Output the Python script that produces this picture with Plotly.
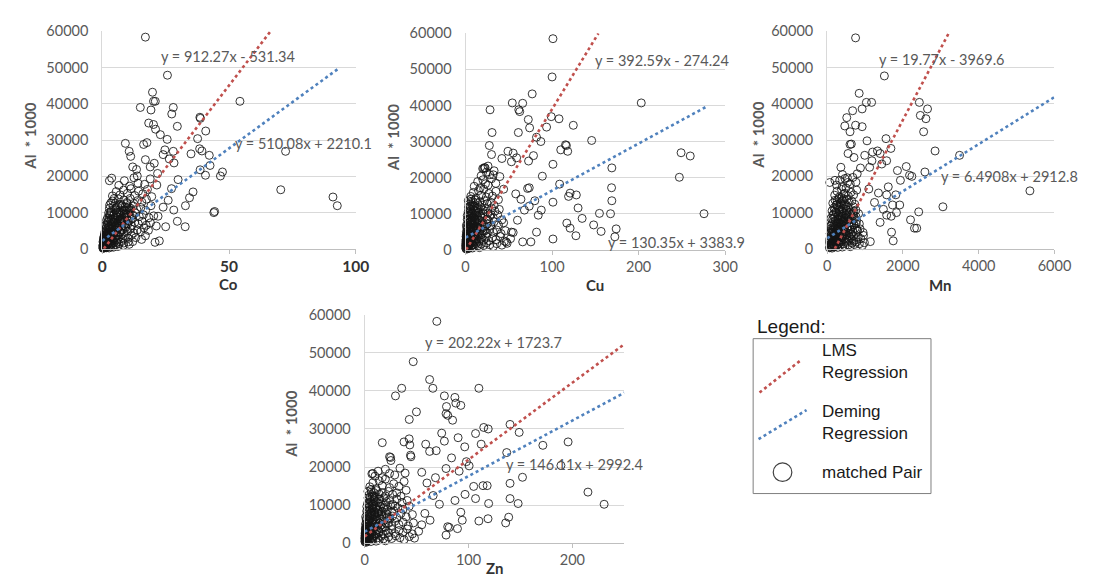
import plotly.graph_objects as go

W, H = 1094, 587

# ---------------- DATA ----------------
AL_RANGE = [0, 60000]
Y_TICKS = [0, 10000, 20000, 30000, 40000, 50000, 60000]

CO_TICKS = [0, 50, 100]
CU_TICKS = [0, 100, 200, 300]
MN_TICKS = [0, 2000, 4000, 6000]
ZN_TICKS = [0, 100, 200]

# Co vs Al*1000
co_pts = [
    (17, 58400), (25.7, 47900), (19.8, 43200), (20.2, 40700), (20.9, 40700), (15, 39000), (19.2, 38300),
    (28, 39000), (27.4, 37200), (54.3, 40700), (38.5, 36300), (38.7, 36000), (18.3, 34700), (20.2, 34300),
    (21, 33000), (22.9, 31500), (25.6, 30200), (29.6, 33800), (40.8, 32500), (9.1, 29100), (16.3, 28800),
    (17.6, 29300), (37.6, 30400), (38.4, 27600), (39.3, 27000), (42.2, 25800), (35, 26200), (24.7, 27300),
    (28, 26900), (24, 26000), (72.3, 26900), (10.6, 26900), (11.2, 25500), (17, 24600), (20.5, 23600),
    (26.4, 24800), (28.3, 23700), (12, 22600), (13.5, 21900), (13.8, 20100), (18.9, 22600), (21.8, 20800),
    (38.6, 21800), (40.7, 20300), (42.5, 23000), (47.4, 21200), (46.6, 20100), (2.8, 18800), (3.7, 19500),
    (29.9, 19100), (35.8, 15700), (34.4, 14100), (32.8, 11900), (29.6, 7600), (32.7, 6100), (28.2, 10700),
    (25, 6100), (20.8, 1800), (22.5, 2200), (44, 10000), (44.3, 10300), (70.4, 16300), (91, 14300),
    (92.7, 11900), (27.3, 16600), (26, 13400), (24, 11500), (22, 9000), (21.3, 6300),
    (0.2, 300), (0.4, 700), (0.6, 200), (0.8, 1100), (1.0, 500), (1.2, 1500), (1.4, 900), (1.6, 300),
    (1.8, 1800), (2.0, 1200), (2.3, 600), (2.6, 1600), (3.0, 900), (3.3, 1900), (3.7, 1300), (4.1, 700),
    (4.6, 1700), (5.2, 1100), (5.8, 1800), (6.5, 1400), (7.3, 1900), (8.5, 1600), (10.2, 1900), (12, 2000),
    (0.5, 2200), (0.9, 2800), (1.3, 3500), (1.7, 2400), (2.1, 3100), (2.5, 3800), (2.9, 2600), (3.3, 3300),
    (3.8, 2200), (4.2, 3700), (4.7, 2900), (5.3, 3500), (5.9, 2500), (6.6, 3200), (7.4, 3900), (8.2, 2700),
    (9.1, 3400), (10.3, 2900), (11.5, 3700), (13.2, 3100), (15.5, 2600), (17, 3600),
    (1.0, 4300), (1.5, 5200), (2.0, 4700), (2.4, 5800), (2.8, 4200), (3.2, 5300), (3.6, 4600), (4.0, 5600),
    (4.5, 4100), (5.0, 5100), (5.6, 4500), (6.2, 5700), (6.9, 4800), (7.6, 5400), (8.4, 4300), (9.3, 5900),
    (10.1, 4900), (11.2, 5500), (12.4, 4400), (13.8, 5200), (15.1, 4700), (16.4, 5800), (18.2, 5100),
    (1.3, 6500), (2.0, 7300), (2.7, 6200), (3.3, 7800), (3.9, 6700), (4.5, 7400), (5.1, 6100), (5.8, 7100),
    (6.4, 6600), (7.0, 7900), (7.8, 6300), (8.6, 7500), (9.5, 6800), (10.5, 7700), (11.6, 6400), (12.8, 7300),
    (14.2, 6900), (15.7, 7600), (17.3, 6500), (19, 7200),
    (2.1, 8600), (2.9, 9500), (3.6, 8200), (4.3, 9100), (5.0, 8500), (5.7, 9800), (6.3, 8800), (7.1, 9300),
    (7.9, 8100), (8.8, 9700), (9.6, 8700), (10.7, 9200), (11.9, 8400), (13.1, 9900), (14.6, 8900),
    (16.2, 9400), (18.4, 8600), (20.3, 9100),
    (2.8, 11200), (3.5, 10400), (4.4, 11700), (5.3, 10800), (6.1, 11500), (7.0, 10200), (7.9, 11900),
    (8.7, 10700), (9.8, 11300), (10.9, 10300), (12.2, 11800), (13.6, 10900), (15.2, 11400), (17.1, 10600),
    (19.2, 11900),
    (2.9, 12100), (4.1, 13200), (5.2, 12600), (6.3, 13800), (7.4, 12300), (8.5, 13500), (9.7, 12800),
    (11.0, 13900), (12.4, 12500), (13.9, 13300), (15.6, 12900), (17.4, 13700),
    (4.0, 14600), (5.5, 15800), (7.0, 14900), (8.4, 16200), (9.9, 15300), (11.3, 16600), (12.8, 14700),
    (14.3, 15900), (16.0, 15200), (17.8, 16400), (19.5, 14400),
    (6.5, 17500), (8.7, 18800), (10.8, 17300), (12.5, 19600), (14.1, 18100), (16.7, 17800), (18.9, 19300),
    (21.5, 17600),
    (0.3, 1000), (0.7, 1500), (1.1, 2000), (0.5, 600), (0.9, 1900), (1.5, 2500), (1.9, 3000), (2.2, 2000),
    (0.4, 1300), (1.0, 2700), (1.6, 3600), (2.3, 4300), (0.7, 3300), (1.2, 4000), (0.3, 2000), (0.6, 400),
    (1.3, 1200), (2.8, 3300), (3.5, 2800), (4.3, 4700),
    (0.5, 3000), (0.8, 3800), (1.1, 4800), (1.4, 5600), (1.7, 6200), (2.2, 6800), (2.4, 7600), (2.7, 8400),
    (3.1, 9200), (3.3, 10100), (1.1, 1100), (1.6, 1400), (2.1, 2300), (2.4, 2700), (3.1, 2900), (3.4, 3700),
    (4.1, 4100), (4.4, 4400), (5.1, 5300), (5.4, 5600), (6.1, 6200), (6.7, 6300), (7.1, 7200), (7.3, 7700),
    (8.1, 7900), (8.7, 8700), (9.1, 9200), (9.4, 9700), (10.2, 9900), (10.6, 10700), (11.1, 11200),
    (3.2, 1500), (4.3, 2300), (5.0, 3100), (6.0, 3700), (7.1, 4600), (8.0, 5300), (9.0, 6100), (10.1, 6900),
    (11.3, 8100), (12.1, 9300), (0.8, 2500), (1.9, 4100), (2.9, 5500), (3.8, 6300), (4.8, 7300),
    (5.9, 8700), (6.8, 9700), (7.7, 10600), (8.9, 11500), (9.8, 12500), (1.7, 7900), (2.5, 9900),
    (3.4, 12700), (4.7, 13900), (5.6, 10100), (6.7, 12100), (1.2, 350), (2.7, 250), (4.4, 450), (6.2, 650),
    (8.3, 950), (10.6, 1250), (0.2, 850), (0.4, 1700), (0.6, 2700), (0.9, 3600), (1.8, 2100), (2.2, 3000),
    (3.7, 4000), (4.9, 5200), (5.3, 6400), (6.4, 7100), (7.5, 8300), (8.4, 9400), (9.3, 10400),
    (10.4, 11500), (0.3, 150), (0.7, 900), (1.4, 2900), (2.0, 3700), (2.6, 4600), (3.0, 6100), (3.5, 7000),
    (4.2, 8100), (4.6, 9400), (5.4, 11300),
]

# Cu vs Al*1000
cu_pts = [
    (101, 58500), (100, 47900), (77, 43200), (54, 40700), (66, 40600), (61.5, 38800), (62.6, 38300),
    (203, 40700), (28.3, 38800), (72.5, 36100), (99, 36900), (108, 36300), (124.5, 34500), (93.6, 34000),
    (74, 33800), (30.6, 32500), (61, 32500), (145.7, 30300), (82, 31200), (87, 30000), (115.5, 29100),
    (116.5, 28900), (110, 27700), (118, 27300), (27.5, 28900), (30, 26400), (249, 26900), (259.6, 26000),
    (49, 27300), (55, 26800), (59, 25500), (72.8, 24600), (78.5, 26100), (42, 25300), (53, 24400),
    (101, 23700), (169, 22700), (22.6, 22700), (19.8, 22500), (32, 20800), (39.6, 20300), (88.7, 20400),
    (247, 20100), (108.7, 18200), (168.7, 17200), (73.6, 17200), (71.7, 17000), (120.8, 15700), (128, 15200),
    (119, 14800), (169, 13600), (101, 13200), (130, 11600), (87.5, 11000), (154.7, 10100), (167.5, 10000),
    (275.5, 10000), (134.7, 8700), (117, 7400), (148, 6900), (174, 5800), (156.6, 5100), (172.5, 3600),
    (127.5, 3900), (101, 3000), (120.8, 6000), (82, 4900), (75.5, 2200), (66, 2200), (53, 4900), (47, 2200),
    (73.6, 12100), (68, 11000), (58, 15500), (64, 14000), (80, 13600), (84, 9600), (60, 8200), (44, 16800),
    (0.5, 300), (1, 800), (1.5, 200), (2, 1300), (2.5, 600), (3, 1700), (3.5, 1000), (4, 400), (5, 1500),
    (6, 900), (7, 1900), (8, 500), (9, 1400), (10, 800), (12, 1800), (14, 1100), (16, 600), (18, 1600),
    (21, 1200), (24, 1900), (28, 1400), (32, 900), (36, 1700), (42, 1300), (48, 1800),
    (0.8, 2300), (1.5, 3100), (2.3, 2600), (3, 3800), (4, 2200), (5, 3300), (6, 2800), (7.5, 3700), (9, 2400),
    (10.5, 3500), (12, 2900), (14, 3800), (16, 2300), (18, 3200), (21, 2700), (24, 3600), (27, 2500),
    (31, 3300), (35, 2800), (40, 3700), (45, 2400), (52, 3100),
    (1, 4200), (2, 5100), (3, 4600), (4, 5700), (5, 4300), (6.5, 5400), (8, 4800), (9.5, 5900), (11, 4400),
    (13, 5300), (15, 4700), (17, 5800), (19, 4200), (22, 5200), (25, 4600), (28, 5700), (32, 4900),
    (36, 5500), (41, 4500), (46, 5300), (55, 4800),
    (1.5, 6300), (2.5, 7200), (3.5, 6700), (5, 7700), (6.5, 6200), (8, 7400), (9.5, 6900), (11, 7900),
    (13, 6400), (15, 7300), (17, 6800), (19.5, 7700), (22, 6300), (25, 7100), (29, 6600), (33, 7800),
    (38, 6900), (44, 7500),
    (2, 8400), (3.5, 9300), (5, 8700), (6.5, 9800), (8, 8200), (9.5, 9100), (11, 8600), (13, 9600),
    (15, 8300), (17, 9400), (19, 8800), (22, 9900), (25, 8500), (28, 9300), (32, 8900), (37, 9700), (42, 8300),
    (3, 10500), (5, 11300), (7, 10200), (9, 11700), (11, 10800), (13, 11500), (15, 10300), (17.5, 11900),
    (20, 10900), (23, 11400), (26, 10200), (30, 11600), (34, 10700), (39, 11200),
    (4, 12600), (6.5, 13400), (9, 12200), (11.5, 13800), (14, 12900), (16.5, 13300), (19, 12400),
    (22, 13600), (25, 12800), (29, 13200), (33, 12300), (38, 13900),
    (6, 14800), (9, 15900), (12, 14300), (15, 16400), (18, 15100), (21, 16800), (24, 14600), (27, 15600),
    (31, 14900), (35, 16200),
    (10, 17600), (14, 18900), (17, 17200), (20, 19400), (23, 18300), (26, 17900), (30, 19700), (35, 18400),
    (18, 20500), (21, 22500), (22, 22800), (24, 21500), (26, 23200), (28, 20800), (33, 21900),
    (0.3, 500), (0.6, 1200), (0.9, 1800), (1.2, 2500), (1.6, 900), (2.1, 1900), (2.7, 3000), (3.3, 2400),
    (1.1, 3600), (1.8, 4300), (2.4, 3400), (0.4, 2000), (0.7, 2900), (1.4, 1400), (3.8, 3100), (4.6, 1900),
    (5.5, 2600), (6.2, 4000), (7.2, 3000), (0.9, 5000),
    (1.2, 3000), (2.2, 4000), (3.1, 5100), (4.2, 6100), (5.3, 7000), (6.1, 8100), (7.3, 9000), (8.2, 10100),
    (9.4, 11000), (10.3, 12100), (2.6, 1200), (4.4, 2100), (6.2, 3200), (8.3, 4000), (10.1, 5100),
    (12.2, 6100), (14.1, 7000), (16.3, 8100), (18.2, 9200), (20.1, 10100), (0.6, 3700), (1.7, 5900),
    (2.8, 8300), (3.9, 10200), (5.2, 12100), (6.4, 14100), (1.0, 6800), (2.0, 9500), (3.4, 11800),
    (7.8, 1300), (11.2, 2300), (13.8, 3000), (17.2, 4100), (20.3, 5200), (23.2, 6700), (26.4, 8100),
    (29.4, 9800), (0.2, 1400), (0.5, 2600), (1.3, 700), (1.9, 3600), (2.9, 4300), (3.6, 5500), (4.4, 7600),
    (5.6, 6400), (6.8, 7300), (7.7, 8600), (8.6, 6300), (9.8, 7600), (10.8, 9400), (12.3, 10600),
    (13.6, 8200), (14.7, 11600), (4.8, 9600), (6.0, 10900), (7.4, 12400), (8.8, 13300), (3.2, 13600),
    (0.4, 900), (0.8, 1600), (1.4, 2100), (2.6, 2300), (3.6, 1400), (4.8, 3000), (5.8, 3900), (7.0, 5300),
    (8.6, 5600), (9.8, 3100), (11.5, 3900), (12.6, 5600), (14.3, 6200), (16.1, 5100), (18.6, 6600),
]

# Mn vs Al*1000
mn_pts = [
    (751, 58200), (1511, 47700), (846, 42900), (1036, 40400), (1174, 40400), (2434, 40400), (2650, 38600),
    (2460, 36800), (2607, 35900), (673, 38100), (924, 38600), (518, 36200), (466, 33900), (604, 32300),
    (751, 34100), (924, 33700), (2547, 32300), (639, 28900), (604, 28800), (1053, 29800), (1554, 30400),
    (1683, 27700), (2849, 27000), (3496, 25800), (553, 26300), (708, 25200), (993, 25800), (1200, 26700),
    (1329, 27000), (1398, 26300), (1183, 24300), (1442, 23400), (1571, 24300), (1122, 22500), (363, 22500),
    (406, 20500), (535, 19600), (794, 20700), (880, 22300), (2089, 22700), (1856, 21600), (2175, 20300),
    (2236, 20000), (2581, 21200), (1934, 18900), (69, 18300), (207, 18900), (5352, 16000), (3056, 11600),
    (2417, 10200), (2201, 8000), (2305, 5700), (2365, 5700), (1744, 2200), (1727, 12100), (1916, 12100),
    (1700, 4600), (1398, 7300), (1690, 9000), (1140, 2000), (984, 1700), (1485, 10900), (1571, 9300),
    (1355, 15400), (1571, 14900), (1614, 17100), (1813, 14900), (1830, 10000), (1250, 12800), (1100, 16500),
    (60, 300), (100, 800), (130, 200), (160, 1300), (190, 600), (220, 1700), (250, 1000), (280, 400),
    (310, 1500), (340, 900), (370, 1900), (400, 500), (430, 1400), (470, 800), (510, 1800), (560, 1100),
    (610, 600), (660, 1600), (720, 1200), (780, 1900), (850, 1400), (930, 900),
    (70, 2300), (110, 3100), (150, 2600), (180, 3800), (220, 2200), (260, 3300), (300, 2800), (340, 3700),
    (380, 2400), (420, 3500), (460, 2900), (500, 3800), (550, 2300), (600, 3200), (650, 2700), (700, 3600),
    (760, 2500), (820, 3300), (890, 2800), (960, 3700),
    (80, 4200), (120, 5100), (160, 4600), (200, 5700), (240, 4300), (280, 5400), (320, 4800), (360, 5900),
    (400, 4400), (440, 5300), (480, 4700), (520, 5800), (570, 4200), (620, 5200), (680, 4600), (740, 5700),
    (800, 4900), (870, 5500), (950, 4500),
    (90, 6300), (140, 7200), (180, 6700), (220, 7700), (260, 6200), (300, 7400), (340, 6900), (380, 7900),
    (420, 6400), (460, 7300), (500, 6800), (550, 7700), (600, 6300), (650, 7100), (710, 6600), (780, 7800),
    (850, 6900),
    (100, 8400), (150, 9300), (200, 8700), (240, 9800), (280, 8200), (320, 9100), (360, 8600), (400, 9600),
    (440, 8300), (490, 9400), (540, 8800), (590, 9900), (640, 8500), (700, 9300), (760, 8900), (830, 9700),
    (130, 10500), (180, 11300), (230, 10200), (270, 11700), (310, 10800), (350, 11500), (400, 10300),
    (450, 11900), (500, 10900), (560, 11400), (620, 10200), (690, 11600), (760, 10700),
    (150, 12600), (210, 13400), (260, 12200), (310, 13800), (360, 12900), (410, 13300), (460, 12400),
    (520, 13600), (580, 12800), (650, 13200), (730, 12300),
    (200, 14800), (260, 15900), (320, 14300), (380, 16400), (440, 15100), (500, 16800), (560, 14600),
    (630, 15600), (700, 14900), (780, 16200),
    (250, 17600), (330, 18900), (400, 17200), (470, 19400), (540, 18300), (610, 17900), (680, 19700),
    (760, 18400),
    (80, 500), (120, 1200), (150, 1800), (170, 2500), (200, 900), (230, 3000), (110, 1500), (140, 3400),
    (190, 4000), (90, 2000), (210, 2000), (260, 2500), (300, 1300), (130, 4500), (170, 6000), (240, 6800),
    (95, 3600), (125, 2700), (155, 5300), (185, 4300), (215, 6200), (245, 5100), (275, 7100), (305, 6000),
    (335, 8000), (365, 7100), (395, 8900), (425, 7600), (455, 9900), (485, 8500), (515, 10600), (545, 9600),
    (105, 1000), (135, 1500), (165, 2100), (195, 2900), (225, 3600), (255, 4100), (285, 4700), (315, 5500),
    (345, 6100), (375, 6800), (405, 7400), (435, 5600), (465, 6200), (495, 4600), (525, 3900), (555, 5100),
    (585, 7300), (615, 8100), (645, 6000), (675, 9700), (705, 10400), (735, 8300), (765, 7000), (795, 5300),
    (115, 6700), (145, 8200), (175, 9600), (205, 10900), (235, 12100), (265, 13300), (295, 9300),
    (325, 10300), (355, 12600), (385, 14100), (415, 11100), (445, 13700), (475, 15300), (505, 12000),
    (85, 1200), (75, 2800), (95, 4600), (105, 5600), (65, 1700), (140, 600), (175, 1100), (230, 700),
    (270, 1900), (330, 2300), (390, 3200), (450, 4200), (510, 2700), (580, 3600), (640, 4100), (700, 2100),
]

# Zn vs Al*1000
zn_pts = [
    (69.5, 58300), (46.8, 47700), (62.6, 43000), (65.7, 40700), (35.7, 40700), (29.7, 38700), (110, 40700),
    (76.8, 38700), (86.9, 38300), (87.8, 36800), (92.6, 36200), (78.8, 35900), (49.9, 34500), (78.4, 34000),
    (80, 33600), (43, 32500), (84.7, 32300), (140, 31200), (114.7, 30400), (119, 30000), (148.8, 29100),
    (74.2, 28900), (106.8, 28800), (90, 27700), (112.2, 26000), (37.9, 26600), (42.9, 27400), (17, 26400),
    (43.5, 25800), (171.6, 25700), (195.9, 26600), (58.8, 26000), (62.6, 24100), (68.9, 24300), (96.4, 25300),
    (76.8, 26800), (44.2, 23100), (44.6, 22700), (24, 22700), (25.3, 21700), (136.8, 23800), (83.7, 22400),
    (152, 17300), (140, 15700), (105, 14900), (114, 15100), (118, 15100), (189, 20400), (215, 13400),
    (230.6, 10200), (140, 11700), (147.8, 10400), (119.4, 10400), (106.8, 11700), (138.7, 6800),
    (135.8, 5300), (118.8, 6400), (110, 5800), (94, 6000), (89.4, 3800), (80, 4300), (81.5, 4100),
    (78.4, 2100), (96.7, 12800), (92.6, 8100), (87, 11200), (98, 21400), (100.6, 20300), (91, 18900),
    (78.4, 19600), (68.2, 17200), (7.9, 18300), (25, 22500), (55, 18600), (60, 15800), (66, 12500),
    (72, 10200), (58, 7800), (63, 6000),
    (0.5, 300), (1, 800), (1.5, 200), (2, 1300), (3, 600), (4, 1700), (5, 1000), (6, 400), (7, 1500),
    (8, 900), (9.5, 1900), (11, 500), (12.5, 1400), (14, 800), (16, 1800), (18, 1100), (20, 600), (23, 1600),
    (26, 1200), (30, 1900), (34, 1400), (38, 900), (43, 1700), (48, 1300),
    (0.8, 2300), (1.6, 3100), (2.5, 2600), (3.5, 3800), (4.5, 2200), (6, 3300), (7.5, 2800), (9, 3700),
    (10.5, 2400), (12, 3500), (14, 2900), (16, 3800), (18, 2300), (20.5, 3200), (23, 2700), (26, 3600),
    (29, 2500), (33, 3300), (37, 2800), (41, 3700), (46, 2400), (52, 3100),
    (1, 4200), (2, 5100), (3, 4600), (4.5, 5700), (6, 4300), (7.5, 5400), (9, 4800), (10.5, 5900),
    (12, 4400), (14, 5300), (16, 4700), (18, 5800), (20, 4200), (23, 5200), (26, 4600), (29, 5700),
    (33, 4900), (37, 5500), (42, 4500), (47, 5300), (55, 4800),
    (1.5, 6300), (3, 7200), (4.5, 6700), (6, 7700), (7.5, 6200), (9, 7400), (10.5, 6900), (12.5, 7900),
    (14.5, 6400), (16.5, 7300), (18.5, 6800), (21, 7700), (24, 6300), (27, 7100), (31, 6600), (35, 7800),
    (40, 6900), (46, 7500),
    (2, 8400), (3.5, 9300), (5, 8700), (7, 9800), (9, 8200), (11, 9100), (13, 8600), (15, 9600), (17, 8300),
    (19, 9400), (22, 8800), (25, 9900), (28, 8500), (32, 9300), (37, 8900), (43, 9700),
    (3, 10500), (5, 11300), (7, 10200), (9, 11700), (11, 10800), (13.5, 11500), (16, 10300), (18.5, 11900),
    (21, 10900), (24, 11400), (27, 10200), (31, 11600), (36, 10700), (41, 11200),
    (4, 12600), (6.5, 13400), (9, 12200), (11.5, 13800), (14, 12900), (17, 13300), (20, 12400), (23, 13600),
    (27, 12800), (31, 13200), (35, 12300), (40, 13900),
    (5, 14800), (8, 15900), (11, 14300), (14, 16400), (17, 15100), (20, 16800), (24, 14600), (28, 15600),
    (33, 14900), (38, 16200),
    (7, 18200), (10, 17600), (13, 18900), (17, 17200), (20, 19400), (24, 18300), (29, 17900), (34, 19700),
    (39, 18400),
    (0.3, 500), (0.6, 1200), (0.9, 1800), (1.2, 2500), (1.6, 900), (2.1, 1900), (2.7, 3000), (3.3, 2400),
    (1.1, 3600), (1.8, 4300), (2.4, 3400), (0.4, 2000), (0.7, 2900), (1.4, 1400), (3.8, 3100), (4.6, 1900),
    (5.5, 2600), (6.2, 4000), (0.9, 5000), (1.3, 1700),
    (1.1, 2900), (2.2, 4100), (3.2, 5200), (4.1, 6100), (5.2, 7100), (6.3, 8100), (7.2, 9100), (8.3, 10100),
    (9.2, 11100), (10.1, 12100), (2.6, 1100), (4.3, 2100), (6.1, 3100), (8.2, 4100), (10.3, 5100),
    (12.1, 6100), (14.2, 7100), (16.1, 8100), (18.3, 9100), (20.2, 10100), (0.6, 3700), (1.7, 5900),
    (2.8, 8100), (3.9, 10300), (5.3, 12100), (6.2, 14100), (1.0, 6900), (2.1, 9600), (3.3, 11900),
    (7.7, 1300), (11.3, 2300), (13.7, 3100), (17.3, 4100), (20.4, 5200), (23.3, 6600), (26.2, 8200),
    (29.3, 9700), (0.2, 1400), (0.5, 2600), (1.3, 700), (1.9, 3600), (2.9, 4300), (3.6, 5500), (4.4, 7600),
    (5.6, 6400), (6.8, 7300), (7.7, 8600), (8.6, 6300), (9.8, 7600), (10.8, 9400), (12.3, 10600),
    (13.6, 8200), (14.7, 11600), (4.8, 9600), (6.0, 10900), (7.4, 12400), (8.8, 13300), (3.2, 13600),
    (0.4, 900), (0.8, 1600), (1.4, 2100), (2.6, 2300), (3.6, 1400), (4.8, 3000), (5.8, 3900), (7.0, 5300),
]

# Regression lines: (x_start, x_end, slope, intercept)
co_lms = (0.6, 66.3, 912.27, -531.34)
co_dem = (0.0, 93.0, 510.08, 2210.1)
cu_lms = (0.7, 153.5, 392.59, -274.24)
cu_dem = (0.0, 278.0, 130.35, 3383.9)
mn_lms = (201, 3236, 19.77, -3969.6)
mn_dem = (0.0, 6000.0, 6.4908, 2912.8)
zn_lms = (0.0, 250.0, 202.22, 1723.7)
zn_dem = (0.0, 250.0, 146.11, 2992.4)

co_eq = ["y = 912.27x - 531.34", "y = 510.08x + 2210.1"]
cu_eq = ["y = 392.59x - 274.24", "y = 130.35x + 3383.9"]
mn_eq = ["y = 19.77x - 3969.6", "y = 6.4908x + 2912.8"]
zn_eq = ["y = 202.22x + 1723.7", "y = 146.11x + 2992.4"]

X_TITLES = ["Co", "Cu", "Mn", "Zn"]
Y_TITLE = "Al  * 1000"
LEGEND_TITLE = "Legend:"
LEGEND_LABELS = ["LMS<br>Regression", "Deming<br>Regression", "matched Pair"]

# ---------------- STYLE ----------------
RED = "#C0504D"
BLUE = "#4F81BD"
GRAY_TXT = "#595959"
FONT = "Lato"

def px_x(p):
    return p / W

def px_y(p):
    return 1 - p / H

panels = [
    dict(pts=co_pts, lms=co_lms, dem=co_dem, eq=co_eq, box=(99.3, 358, 23, 247), xr=[0, 100], tv=CO_TICKS,
         eqpos=[(157, 49), (233, 138)], ytitle=(26, 130), xtitle=(228, 283), boldx=True),
    dict(pts=cu_pts, lms=cu_lms, dem=cu_dem, eq=cu_eq, box=(470, 735, 25, 248), xr=[0, 300], tv=CU_TICKS,
         eqpos=[(600, 53), (613, 240)], ytitle=(396, 132), xtitle=(602, 284), boldx=False),
    dict(pts=mn_pts, lms=mn_lms, dem=mn_dem, eq=mn_eq, box=(839, 1071, 23, 247), xr=[0, 6000], tv=MN_TICKS,
         eqpos=[(890, 52), (953, 173)], ytitle=(769, 130), xtitle=(955, 284), boldx=False),
    dict(pts=zn_pts, lms=zn_lms, dem=zn_dem, eq=zn_eq, box=(367, 632, 315, 550), xr=[0, 250], tv=ZN_TICKS,
         eqpos=[(427, 343), (509, 469)], ytitle=(291, 427), xtitle=(500, 576), boldx=False),
]

fig = go.Figure()
annotations = []
layout_axes = {}

for i, p in enumerate(panels, start=1):
    xa = "x" if i == 1 else f"x{i}"
    ya = "y" if i == 1 else f"y{i}"
    l, r, t, b = p["box"]
    xs = [q[0] for q in p["pts"]]
    ys = [q[1] for q in p["pts"]]
    fig.add_trace(go.Scatter(
        x=xs, y=ys, mode="markers", xaxis=xa, yaxis=ya, cliponaxis=False, showlegend=False,
        marker=dict(symbol="circle-open", size=8, color="rgba(20,20,20,0.85)", line=dict(width=1)),
        hoverinfo="skip"))
    for (x0, x1, m, c), col in ((p["lms"], RED), (p["dem"], BLUE)):
        fig.add_trace(go.Scatter(
            x=[x0, x1], y=[m * x0 + c, m * x1 + c], mode="lines", xaxis=xa, yaxis=ya, showlegend=False,
            line=dict(color=col, width=2.6, dash="dot"), hoverinfo="skip"))
    xk = "xaxis" if i == 1 else f"xaxis{i}"
    yk = "yaxis" if i == 1 else f"yaxis{i}"
    layout_axes[xk] = dict(
        domain=[px_x(l), px_x(r)], range=p["xr"], anchor=ya, tickvals=p["tv"],
        showgrid=False, zeroline=False, showline=True, linecolor="#BFBFBF", linewidth=1,
        ticks="outside", ticklen=4, tickcolor="#BFBFBF",
        tickfont=dict(family=FONT, size=15.5 if p["boldx"] else 14.5,
                      color="#333333" if p["boldx"] else GRAY_TXT,
                      weight="bold" if p["boldx"] else "normal"))
    layout_axes[yk] = dict(
        domain=[px_y(b), px_y(t)], range=AL_RANGE, anchor=xa, tickvals=Y_TICKS,
        ticktext=[str(v) for v in Y_TICKS],
        showgrid=True, gridcolor="#D9D9D9", gridwidth=1, zeroline=False,
        showline=True, linecolor="#D9D9D9", linewidth=1, ticks="", ticklabelstandoff=10,
        tickfont=dict(family=FONT, size=14.5, color=GRAY_TXT))
    for txt, (ex, ey) in zip(p["eq"], p["eqpos"]):
        annotations.append(dict(text=txt, x=px_x(ex), y=px_y(ey), xref="paper", yref="paper",
                                xanchor="left", yanchor="middle", showarrow=False,
                                font=dict(family=FONT, size=14.5, color=GRAY_TXT)))
    tx, ty = p["ytitle"]
    annotations.append(dict(text=f"<b>{Y_TITLE}</b>", x=px_x(tx), y=px_y(ty), xref="paper", yref="paper",
                            xanchor="center", yanchor="middle", textangle=-90, showarrow=False,
                            font=dict(family=FONT, size=15, color=GRAY_TXT)))
    xx, xy = p["xtitle"]
    annotations.append(dict(text=f"<b>{X_TITLES[i-1]}</b>", x=px_x(xx), y=px_y(xy), xref="paper", yref="paper",
                            xanchor="center", yanchor="middle", showarrow=False,
                            font=dict(family=FONT, size=15, color="#333333")))

# ---------------- LEGEND (drawn) ----------------
shapes = [
    dict(type="rect", xref="paper", yref="paper", x0=px_x(763.5), x1=px_x(945), y0=px_y(499), y1=px_y(339.5),
         line=dict(color="#7F7F7F", width=1), fillcolor="white", layer="below"),
    dict(type="line", xref="paper", yref="paper", x0=px_x(770), y0=px_y(395), x1=px_x(813), y1=px_y(361),
         line=dict(color=RED, width=2.6, dash="dot")),
    dict(type="line", xref="paper", yref="paper", x0=px_x(769), y0=px_y(443), x1=px_x(818), y1=px_y(413),
         line=dict(color=BLUE, width=2.6, dash="dot")),
    dict(type="circle", xref="paper", yref="paper", x0=px_x(784), x1=px_x(803), y0=px_y(486.5), y1=px_y(467.5),
         line=dict(color="#404040", width=1.2)),
]
annotations.append(dict(text=LEGEND_TITLE, x=px_x(765), y=px_y(327), xref="paper", yref="paper",
                        xanchor="left", yanchor="middle", showarrow=False,
                        font=dict(family="Liberation Sans", size=19, color="#1a1a1a")))
for txt, cy in zip(LEGEND_LABELS, [362.5, 425.5, 477]):
    annotations.append(dict(text=txt, x=px_x(832), y=px_y(cy), xref="paper", yref="paper",
                            xanchor="left", yanchor="middle", align="left", showarrow=False,
                            font=dict(family="Liberation Sans", size=17, color="#1a1a1a")))

fig.update_layout(
    width=W, height=H, margin=dict(l=0, r=0, t=0, b=0),
    paper_bgcolor="white", plot_bgcolor="white",
    annotations=annotations, shapes=shapes, showlegend=False, **layout_axes)

fig.write_html("out.html", config={"displayModeBar": False})
